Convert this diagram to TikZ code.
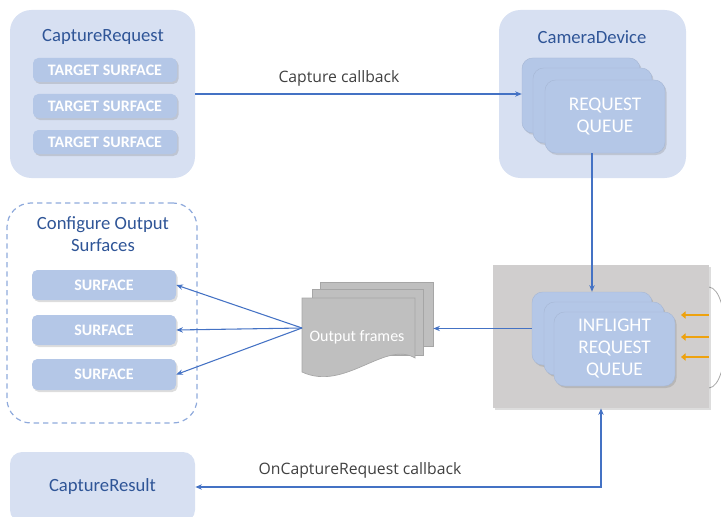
\documentclass[tikz,border=0pt]{standalone}
\usepackage{fontspec}
\setmainfont{Carlito}
\newfontfamily\lblfont{Open Sans}
\usetikzlibrary{shadows,arrows.meta}
\definecolor{boxbg}{HTML}{D7E0F2}
\definecolor{innerblue}{HTML}{B4C7E7}
\definecolor{titleblue}{HTML}{2F5597}
\definecolor{arrowblue}{HTML}{4472C4}
\definecolor{hwgray}{HTML}{D0CECE}
\definecolor{framegray}{HTML}{BFBFBF}
\definecolor{framedraw}{HTML}{A6A6A6}
\definecolor{amber}{HTML}{EEA20E}
\definecolor{dashblue}{HTML}{8FAADC}
\definecolor{lbltext}{HTML}{404040}
\tikzset{
  corners/.style n args={4}{at={(#1/2+#3/2,#2/2+#4/2)}, minimum width={(#3-#1)*0.75pt}, minimum height={(#4-#2)*0.75pt}},
  outerbox/.style={inner sep=0pt, fill=boxbg, rounded corners=16pt},
  titletext/.style={text=titleblue, font=\fontsize{14}{17}\selectfont, align=center, inner sep=0pt},
  softshadow/.style={drop shadow={shadow xshift=1.2pt, shadow yshift=-1.5pt, opacity=0.22, fill=black!60}},
  tsurf/.style={inner sep=0pt, fill=innerblue, rounded corners=4pt, softshadow, text=white, font=\fontsize{12}{14}\selectfont\bfseries},
  queuebox/.style={inner sep=0pt, fill=innerblue, rounded corners=8pt, softshadow, draw=innerblue!92!black, line width=0.3pt, text=white, align=center, font=\fontsize{14.5}{16.5}\selectfont},
  dashedbox/.style={inner sep=0pt, draw=dashblue, line width=0.9pt, dash pattern=on 4pt off 3pt, rounded corners=18pt},
  hwbox/.style={inner sep=0pt, fill=hwgray, softshadow},
  framebox/.style={inner sep=0pt, fill=framegray, draw=framedraw, line width=0.5pt},
  frametext/.style={text=white, font=\fontsize{12}{14}\selectfont, inner sep=0pt},
  conn/.style={draw=arrowblue, line width=0.8pt, -{Stealth[length=5pt,width=4pt]}},
  amberarrow/.style={draw=amber, line width=2.2pt, -{Triangle[length=3.5pt,width=5.5pt]}},
  lbl/.style={text=lbltext, font=\lblfont\fontsize{11.8}{14}\selectfont, inner sep=0pt}
}
\begin{document}
\begin{tikzpicture}[x=0.75pt,y=-0.75pt]
\useasboundingbox (0,0) rectangle (721,517);
\clip (0,0) rectangle (721,517);

% CaptureRequest
\node[outerbox, corners={10}{10}{195}{178}] (creq) {};
\node[titletext] (creqt) at (103,37) {CaptureRequest};
\node[tsurf, corners={33}{58}{177}{82}] (ts1) {TARGET SURFACE};
\node[tsurf, corners={33}{94}{177}{118}] (ts2) {TARGET SURFACE};
\node[tsurf, corners={33}{130}{177}{154}] (ts3) {TARGET SURFACE};

% CameraDevice
\node[outerbox, corners={499}{10}{686}{178}] (cam) {};
\node[titletext] (camt) at (592,37) {CameraDevice};
\node[queuebox, corners={522}{58}{640}{133}] (rq1) {};
\node[queuebox, corners={533}{68}{652}{143}] (rq2) {};
\node[queuebox, corners={545}{80}{665}{153}] (rq3) {REQUEST\\QUEUE};

% Configure output surfaces
\node[dashedbox, corners={7}{203}{197}{423}] (cfg) {};
\node[titletext] (cfgt) at (103,234) {Configure Output\\Surfaces};
\node[tsurf, corners={32}{270}{176}{300}] (s1) {SURFACE};
\node[tsurf, corners={32}{315}{176}{345}] (s2) {SURFACE};
\node[tsurf, corners={32}{359}{176}{390}] (s3) {SURFACE};

% Hardware block
\draw[framedraw, fill=white, line width=0.6pt] (709,287) .. controls (731,289) and (731,386) .. (709,388);
\node[hwbox, corners={493}{265}{709}{408}] (hw) {};
\node[queuebox, corners={532}{292}{652}{365}] (if1) {};
\node[queuebox, corners={544}{302}{664}{375}] (if2) {};
\node[queuebox, corners={554}{312}{675}{386}] (if3) {INFLIGHT\\REQUEST\\QUEUE};
\coordinate (y1s) at (709,315); \coordinate (y1e) at (681,315);
\coordinate (y2s) at (709,337); \coordinate (y2e) at (681,337);
\coordinate (y3s) at (709,357); \coordinate (y3e) at (681,357);
\draw[amberarrow] (y1s) -- (y1e);
\draw[amberarrow] (y2s) -- (y2e);
\draw[amberarrow] (y3s) -- (y3e);

% Output frames
\node[framebox, corners={320}{282}{433}{346}] (of1) {};
\node[framebox, corners={312}{289}{423}{355}] (of2) {};
\draw[framedraw, fill=framegray, line width=0.5pt] (302,298) -- (415,298) -- (415,358)
  .. controls (385,340) and (345,392) .. (302,372) -- cycle;
\node[frametext] (oft) at (357,337) {Output frames};
\coordinate (ofin) at (302,328);

% CaptureResult
\node[outerbox, rounded corners=9pt, corners={10}{452}{195}{522}, text=titleblue, font=\fontsize{14}{17}\selectfont] (cres) {CaptureResult};

% Connectors
\draw[conn] (creq.east) -- (creq.east -| rq1.west);
\node[lbl] (cbl) at (339,78) {Capture callback};
\draw[conn] (if1.north |- rq3.south) -- (if1.north);
\draw[conn] (if1.west) -- (if1.west -| of1.east);
\draw[conn] (ofin) -- (s1.east);
\draw[conn] (ofin) -- (s2.east);
\draw[conn] (ofin) -- (s3.east);
\draw[conn, {Stealth[length=5pt,width=4pt]}-{Stealth[length=5pt,width=4pt]}] (hw.south) |- (cres.east);
\node[lbl] (ocl) at (360,470) {OnCaptureRequest callback};
\end{tikzpicture}
\end{document}
